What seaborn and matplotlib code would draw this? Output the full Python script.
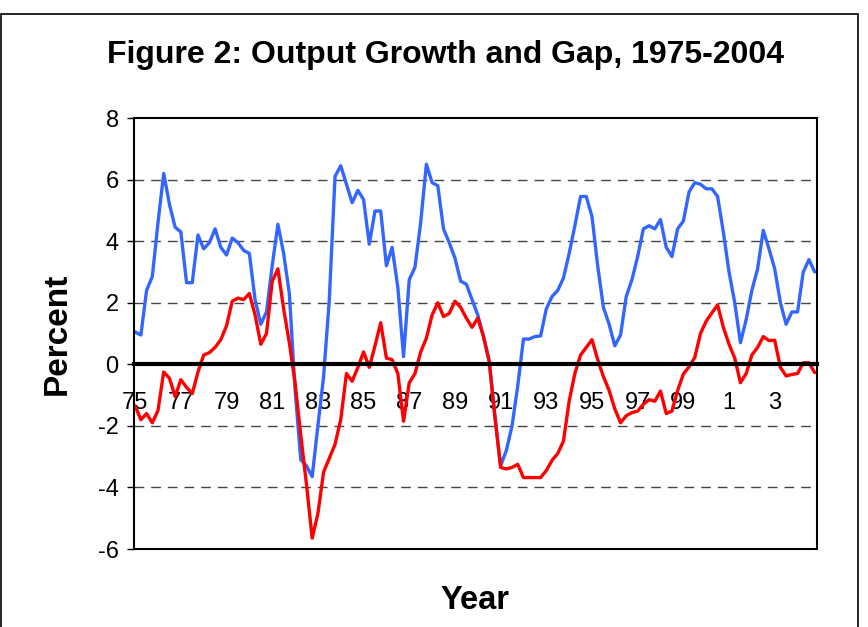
import numpy as np
import pandas as pd
import seaborn as sns
import matplotlib.pyplot as plt
from matplotlib.patches import Rectangle

# quarterly values, 1975Q1 - 2004Q4
growth = [1.05, 0.95, 2.4, 2.85, 4.6, 6.2, 5.2, 4.45, 4.3, 2.65,
          2.65, 4.2, 3.75, 3.95, 4.4, 3.8, 3.55, 4.1, 3.95, 3.7,
          3.6, 2.1, 1.3, 1.7, 3.2, 4.55, 3.6, 2.3, -0.8, -3.1,
          -3.3, -3.65, -2.0, -0.4, 2.1, 6.1, 6.45, 5.85, 5.25, 5.65,
          5.35, 3.9, 4.98, 4.98, 3.2, 3.8, 2.5, 0.25, 2.75, 3.15,
          4.6, 6.5, 5.9, 5.8, 4.4, 3.95, 3.45, 2.7, 2.6, 2.1,
          1.6, 0.9, 0.1, -1.7, -3.3, -2.8, -2.0, -0.7, 0.82, 0.82,
          0.9, 0.92, 1.8, 2.2, 2.4, 2.8, 3.6, 4.5, 5.45, 5.45,
          4.8, 3.2, 1.85, 1.3, 0.6, 0.95, 2.2, 2.75, 3.5, 4.4,
          4.5, 4.4, 4.7, 3.8, 3.5, 4.4, 4.65, 5.6, 5.9, 5.85,
          5.7, 5.7, 5.45, 4.3, 3.0, 2.0, 0.7, 1.45, 2.4, 3.1,
          4.35, 3.75, 3.1, 2.0, 1.3, 1.7, 1.7, 3.0, 3.4, 3.0]

gap = [-1.35, -1.8, -1.6, -1.9, -1.5, -0.25, -0.45, -1.05, -0.5, -0.75,
       -0.95, -0.25, 0.3, 0.38, 0.55, 0.8, 1.25, 2.05, 2.15, 2.1,
       2.3, 1.6, 0.65, 1.0, 2.7, 3.1, 1.8, 0.7, -0.6, -2.3,
       -3.9, -5.65, -4.85, -3.5, -3.05, -2.6, -1.8, -0.3, -0.55, -0.1,
       0.4, -0.1, 0.6, 1.35, 0.2, 0.15, -0.3, -1.85, -0.6, -0.3,
       0.4, 0.85, 1.6, 2.0, 1.55, 1.65, 2.05, 1.85, 1.5, 1.2,
       1.5, 0.9, 0.1, -1.7, -3.35, -3.4, -3.35, -3.25, -3.68, -3.68,
       -3.68, -3.68, -3.45, -3.12, -2.9, -2.5, -1.2, -0.3, 0.3, 0.55,
       0.8, 0.15, -0.4, -0.85, -1.45, -1.9, -1.67, -1.57, -1.52, -1.3,
       -1.15, -1.2, -0.87, -1.6, -1.52, -0.85, -0.32, -0.08, 0.22, 1.0,
       1.4, 1.67, 1.93, 1.2, 0.65, 0.2, -0.6, -0.3, 0.3, 0.55,
       0.9, 0.77, 0.78, -0.1, -0.38, -0.33, -0.3, 0.05, 0.05, -0.27]

year_labels = ['75', '77', '79', '81', '83', '85', '87', '89', '91',
               '93', '95', '97', '99', '1', '3']

df = pd.DataFrame({'t': np.arange(len(growth)), 'growth': growth, 'gap': gap})

sns.set_style('white')
plt.rcParams['font.family'] = ['Liberation Sans', 'DejaVu Sans']
plt.rcParams['axes.unicode_minus'] = False
plt.rcParams['text.color'] = 'black'
plt.rcParams['xtick.color'] = 'black'
plt.rcParams['ytick.color'] = 'black'

fig = plt.figure(figsize=(8.68, 6.27), dpi=100)
ax = fig.add_axes([0.1544, 0.1244, 0.7868, 0.6874])

for y in [-4, -2, 2, 4, 6]:
    ax.axhline(y, color='#444444', lw=1, ls=(0, (7, 5)), zorder=0)

sns.lineplot(data=df, x='t', y='growth', color='#3366FF', lw=2.4, ax=ax)
sns.lineplot(data=df, x='t', y='gap', color='#FF0000', lw=2.4, ax=ax)

ax.set_xlim(-0.2, 119.4)
ax.set_ylim(-6, 8)
ax.set_yticks(range(-6, 9, 2))
ax.set_xticks(range(0, 120, 8))
ax.set_xticklabels(year_labels)
ax.set_xlabel('')
ax.set_ylabel('')

for s in ['top', 'right', 'left']:
    ax.spines[s].set_color('black')
    ax.spines[s].set_linewidth(1.5)
ax.spines['bottom'].set_position(('data', 0))
ax.spines['bottom'].set_color('black')
ax.spines['bottom'].set_linewidth(3)
ax.axhline(-6, color='black', lw=1.5, clip_on=False)

ax.tick_params(axis='y', which='major', left=True, length=5, width=1,
               pad=6, labelsize=17, colors='black')
ax.tick_params(axis='x', which='major', bottom=False, length=0,
               pad=20, labelsize=17, colors='black')

fig.text(0.513, 0.912, 'Figure 2: Output Growth and Gap, 1975-2004',
         ha='center', va='center', fontsize=23, fontweight='bold')
fig.text(0.066, 0.468, 'Percent', ha='center', va='center', rotation=90,
         fontsize=24, fontweight='bold')
fig.text(0.547, 0.043, 'Year', ha='center', va='center',
         fontsize=23.5, fontweight='bold')

fig.patches.append(Rectangle((0.0012, -0.1), 0.9873, 1.0777, transform=fig.transFigure,
                             fill=False, edgecolor='black', lw=1.2))

fig.savefig('out.png', dpi=100)
